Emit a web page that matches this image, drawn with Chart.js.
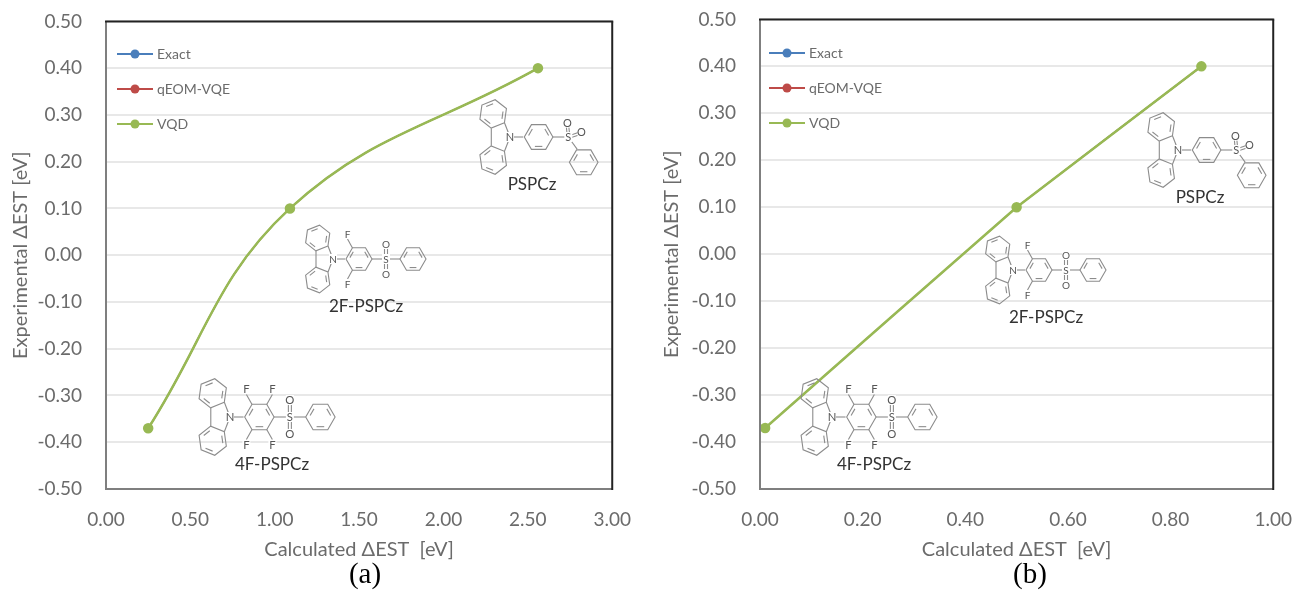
<!DOCTYPE html>
<html>
<head>
<meta charset="utf-8">
<script src="https://cdn.jsdelivr.net/npm/chart.js@4/dist/chart.umd.js"></script>
<style>
    html, body { margin: 0; padding: 0; background: #fff; }
    body { width: 1293px; height: 590px; position: relative; overflow: hidden; }
    canvas { position: absolute; }
    .caption { position: absolute; top: 557px; font: 29px "Liberation Serif", serif; color: #000; transform: translateX(-50%); }
</style>
</head>
<body>
<canvas id="chart_a" width="642" height="576" style="left:0; top:-14px"></canvas>
<canvas id="chart_b" width="657" height="578" style="left:646px; top:-16px"></canvas>
<div class="caption" style="left:365px">(a)</div>
<div class="caption" style="left:1030px">(b)</div>

<script>
/////////////////////////////////// DATA ///////////////////////////////////
const seriesNames = ['Exact', 'qEOM-VQE', 'VQD'];
const seriesColors = ['#4a7ebb', '#be4b48', '#98b954'];

const experimental = [-0.37, 0.10, 0.40];
const calculated_a = [0.25, 1.09, 2.56];
const calculated_b = [0.01, 0.50, 0.86];

const yTitle = 'Experimental ΔEST [eV]';
const xTitle = 'Calculated ΔEST  [eV]';

// pasted structure drawings: N atom position on the canvas
const molecules_a = [
    { name: 'PSPCz', x: 510, y: 151, scale: 1.1, fluorines: 0 },
    { name: '2F-PSPCz', x: 333, y: 273, scale: 1, fluorines: 2 },
    { name: '4F-PSPCz', x: 230, y: 431, scale: 1.13, fluorines: 4 }
];
const molecules_b = [
    { name: 'PSPCz', x: 532, y: 166, scale: 1.1, fluorines: 0 },
    { name: '2F-PSPCz', x: 367, y: 286, scale: 1, fluorines: 2 },
    { name: '4F-PSPCz', x: 186, y: 433, scale: 1.13, fluorines: 4 }
];

/////////////////////////////////// HELPERS ///////////////////////////////////
const FONT = 'Lato, "Noto Sans", sans-serif';
const GREY = '#6b6b6b';

function legendIcon(color) {
    const c = document.createElement('canvas');
    c.width = 38; c.height = 12;
    const g = c.getContext('2d');
    g.strokeStyle = color; g.lineWidth = 2;
    g.beginPath(); g.moveTo(1, 6); g.lineTo(37, 6); g.stroke();
    g.fillStyle = color;
    g.beginPath(); g.arc(19, 6, 4.5, 0, Math.PI * 2); g.fill();
    return c;
}

function ring(ctx, cx, cy, r, startDeg, doubles) {
    const pts = [];
    for (let k = 0; k < 6; k++) {
        const a = (startDeg + 60 * k) * Math.PI / 180;
        pts.push([cx + r * Math.cos(a), cy + r * Math.sin(a)]);
    }
    ctx.beginPath();
    pts.forEach((p, k) => k ? ctx.lineTo(p[0], p[1]) : ctx.moveTo(p[0], p[1]));
    ctx.closePath();
    ctx.stroke();
    doubles.forEach(k => {
        const p = pts[k], q = pts[(k + 1) % 6];
        const f = 0.76;
        ctx.beginPath();
        ctx.moveTo(cx + (p[0] - cx) * f + (q[0] - p[0]) * 0.12, cy + (p[1] - cy) * f + (q[1] - p[1]) * 0.12);
        ctx.lineTo(cx + (q[0] - cx) * f - (q[0] - p[0]) * 0.12, cy + (q[1] - cy) * f - (q[1] - p[1]) * 0.12);
        ctx.stroke();
    });
}

function bond(ctx, x1, y1, x2, y2) {
    ctx.beginPath();
    ctx.moveTo(x1, y1);
    ctx.lineTo(x2, y2);
    ctx.stroke();
}

function atom(ctx, label, x, y) {
    ctx.fillStyle = '#fff';
    ctx.fillRect(x - 4, y - 5, 8, 10);
    ctx.fillStyle = '#555';
    ctx.fillText(label, x, y + 0.5);
}

function drawMolecule(ctx, m) {
    const s = m.scale;
    ctx.save();
    ctx.translate(m.x, m.y);
    ctx.strokeStyle = '#8c8c8c';
    ctx.lineWidth = 1.1;
    ctx.font = (10 * s) + 'px ' + FONT;
    ctx.textAlign = 'center';
    ctx.textBaseline = 'middle';

    // carbazole
    const r = 13 * s;
    ring(ctx, -15.3 * s, -21 * s, r, 38, [1, 3, 5]);
    ring(ctx, -15.3 * s, 21 * s, r, -38, [0, 2, 4]);
    bond(ctx, -17 * s, -8 * s, -17 * s, 8 * s);
    bond(ctx, -5 * s, -13 * s, 0, 0);
    bond(ctx, -5 * s, 13 * s, 0, 0);
    bond(ctx, 0, 0, 12 * s, 0);

    // middle ring and sulfonyl
    const mid = 26 * s;
    ring(ctx, mid, 0, r, 0, [1, 3, 5]);
    const sx = mid + 27 * s;
    bond(ctx, mid + r, 0, sx, 0);

    if (m.fluorines) {
        bond(ctx, sx, 0, sx + 14 * s, 0);
        ring(ctx, sx + 27 * s, 0, r, 0, [1, 3, 5]);
        bond(ctx, sx - 1.5, -12 * s, sx - 1.5, 0);
        bond(ctx, sx + 1.5, -12 * s, sx + 1.5, 0);
        bond(ctx, sx - 1.5, 12 * s, sx - 1.5, 0);
        bond(ctx, sx + 1.5, 12 * s, sx + 1.5, 0);
        atom(ctx, 'O', sx, -15 * s);
        atom(ctx, 'O', sx, 15 * s);
        const fx = m.fluorines === 4 ? [mid - 6.5 * s, mid + 6.5 * s] : [mid - 6.5 * s];
        fx.forEach((x, i) => {
            const lean = i === 0 ? -5 * s : 5 * s;
            bond(ctx, x, -11 * s, x + lean, -20 * s);
            bond(ctx, x, 11 * s, x + lean, 20 * s);
            atom(ctx, 'F', x + lean, -25 * s);
            atom(ctx, 'F', x + lean, 25 * s);
        });
    } else {
        bond(ctx, sx, 0, sx + 8 * s, 11 * s);
        ring(ctx, sx + 14 * s, 23 * s, r, 0, [1, 3, 5]);
        bond(ctx, sx - 1, 0, sx - 2, -10 * s);
        bond(ctx, sx + 1.5, 0, sx + 0.5, -10 * s);
        bond(ctx, sx, -1, sx + 9 * s, -4 * s);
        bond(ctx, sx, 1.5, sx + 9 * s, -1.5 * s);
        atom(ctx, 'O', sx - 1, -13 * s);
        atom(ctx, 'O', sx + 12 * s, -5 * s);
    }
    atom(ctx, 'S', sx, 0);
    atom(ctx, 'N', 0, 0);

    // name under the structure
    const nameX = { 0: 22, 2: 33, 4: 42 }[m.fluorines];
    ctx.font = '17px ' + FONT;
    ctx.fillStyle = '#333';
    ctx.fillText(m.name, nameX, 48);
    ctx.restore();
}

const plotExtras = {
    id: 'plotExtras',
    afterLayout(chart) {
        // sit the legend inside the plot, as in the original figure
        const o = chart.options.plugins.plotExtras;
        chart.legend.left -= o.legendDx;
        chart.legend.top += o.legendDy;
    },
    afterDraw(chart, args, opts) {
        const { ctx, chartArea: a } = chart;
        ctx.save();
        ctx.lineWidth = 2;
        ctx.strokeStyle = '#7f7f7f';
        bond(ctx, a.left, a.top, a.left, a.bottom + 1);
        bond(ctx, a.left, a.bottom, a.right, a.bottom);
        ctx.strokeStyle = '#222';
        bond(ctx, a.left - 1, a.top, a.right + 1, a.top);
        bond(ctx, a.right, a.top, a.right, a.bottom + 1);
        ctx.restore();
        opts.molecules.forEach(m => drawMolecule(ctx, m));
    }
};

/////////////////////////////////// CREATING CHARTS ///////////////////////////////////
function makeChart(id, xs, cfg) {
    const topSeries = seriesNames.length - 1;
    return new Chart(document.getElementById(id), {
        type: 'line',
        data: {
            datasets: seriesNames.map((name, i) => ({
                label: name,
                data: xs.map((x, k) => ({ x: x, y: experimental[k] })),
                borderColor: seriesColors[i],
                backgroundColor: seriesColors[i],
                // VQD sits on top and hides the other two, which share its values
                borderWidth: i === topSeries ? 2.5 : 1.5,
                pointRadius: i === topSeries ? 4 : 3,
                pointHoverRadius: 4,
                tension: cfg.tension,
                clip: false,
                order: seriesNames.length - i
            }))
        },
        plugins: [plotExtras],
        options: {
            responsive: false,
            animation: false,
            plugins: {
                tooltip: { enabled: false },
                plotExtras: { molecules: cfg.molecules, legendDx: cfg.legendDx, legendDy: cfg.legendDy },
                legend: {
                    position: 'chartArea',
                    align: 'start',
                    labels: {
                        usePointStyle: true,
                        pointStyleWidth: 30,
                        padding: 21,
                        color: GREY,
                        font: { family: FONT, size: 14 },
                        generateLabels: chart => seriesNames.map((name, i) => ({
                            text: name,
                            fontColor: GREY,
                            pointStyle: legendIcon(seriesColors[i]),
                            datasetIndex: i,
                            lineWidth: 0,
                            strokeStyle: 'transparent',
                            fillStyle: 'transparent'
                        }))
                    }
                }
            },
            scales: {
                x: {
                    type: 'linear',
                    min: 0,
                    max: cfg.xMax,
                    ticks: {
                        stepSize: cfg.xStep,
                        maxRotation: 0,
                        padding: 11,
                        color: GREY,
                        font: { family: FONT, size: 19 },
                        callback: v => v.toFixed(2)
                    },
                    grid: { display: false },
                    border: { display: false },
                    title: { display: true, text: xTitle, color: GREY, font: { family: FONT, size: 20 }, padding: { top: 10, bottom: 0 } },
                    afterFit: scale => { scale.height = 73; }
                },
                y: {
                    min: -0.5,
                    max: 0.5,
                    ticks: {
                        stepSize: 0.1,
                        padding: 24,
                        color: GREY,
                        font: { family: FONT, size: 19 },
                        callback: v => v.toFixed(2)
                    },
                    grid: { color: '#e8e8e8', lineWidth: 2, drawTicks: false },
                    border: { display: false },
                    title: { display: true, text: yTitle, color: GREY, font: { family: FONT, size: 20 }, padding: { top: cfg.yTitleTop, bottom: 0 } },
                    afterFit: scale => { scale.width = cfg.left; }
                }
            }
        }
    });
}

const chart_a = makeChart('chart_a', calculated_a, { xMax: 3, xStep: 0.5, tension: 0.4, left: 106, yTitleTop: 9, legendDx: 7, legendDy: 40, molecules: molecules_a });
const chart_b = makeChart('chart_b', calculated_b, { xMax: 1, xStep: 0.2, tension: 0.05, left: 114, yTitleTop: 14, legendDx: 9, legendDy: 41, molecules: molecules_b });
</script>
</body>
</html>
